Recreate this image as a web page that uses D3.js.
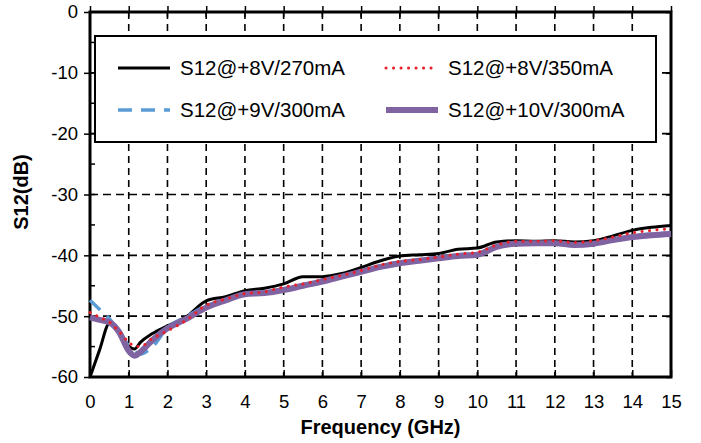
<!DOCTYPE html>
<html>
<head>
<meta charset="utf-8">
<script src="https://cdn.jsdelivr.net/npm/d3@7"></script>
<style>
    body { margin: 0; background: #fff; }
    text { font-family: "Liberation Sans", Arial, sans-serif; }
</style>
</head>
<body>
<script>
var w = 701, h = 443;
var margin = { left: 90, right: 30, top: 12, bottom: 66 };

// frequency points (GHz)
var freq = [0, 0.25, 0.5, 0.75, 1, 1.15, 1.3, 1.6, 2, 2.5, 3, 3.5, 4, 4.5, 5, 5.5, 6, 6.5,
    7, 7.5, 8, 8.5, 9, 9.5, 10, 10.5, 11, 11.5, 12, 12.5, 13, 13.5, 14, 14.5, 15];

var s12_8v270 = [-60, -55.5, -51.2, -52.3, -54.9, -55.4, -54.3, -52.9, -51.6, -50.0, -47.5, -46.8, -45.8, -45.4,
    -44.7, -43.5, -43.5, -43.0, -42.0, -40.9, -40.1, -39.9, -39.7, -39.0, -38.8, -37.8, -37.6, -37.7,
    -37.6, -37.8, -37.6, -36.8, -35.9, -35.4, -35.1];
var s12_8v350 = [-49.4, -50.2, -51.0, -52.5, -54.3, -54.9, -55.0, -53.7, -52.4, -50.6, -48.2, -47.2, -46.3, -46.0,
    -45.2, -44.7, -44.0, -43.3, -42.5, -41.6, -41.0, -40.7, -40.3, -39.8, -39.5, -38.3, -37.7, -37.7,
    -37.6, -37.9, -37.6, -37.0, -36.3, -35.9, -35.6];
var s12_9v300 = [-47.4, -48.9, -50.4, -52.5, -54.9, -55.8, -56.2, -55.1, -51.9, -50.0, -48.3, -47.3, -46.3, -46.0,
    -45.5, -44.8, -44.1, -43.4, -42.6, -41.7, -41.1, -40.8, -40.4, -39.9, -39.7, -38.4, -37.9, -37.9,
    -37.9, -38.2, -38.0, -37.4, -36.8, -36.5, -36.3];
var s12_10v300 = [-50.2, -50.6, -51.0, -52.6, -55.7, -56.5, -55.9, -54.0, -52.0, -50.4, -48.6, -47.4, -46.4, -46.2,
    -45.7, -45.0, -44.3, -43.5, -42.7, -41.9, -41.3, -40.9, -40.5, -40.1, -39.9, -38.6, -38.1, -38.0,
    -38.0, -38.3, -38.1, -37.5, -37.0, -36.7, -36.5];

var xTicks = d3.range(0, 16, 1);
var yTicks = [0, -10, -20, -30, -40, -50, -60];
var yMinor = [-5, -15, -25, -35, -45, -55];

var series = [
    { name: "S12@+8V/270mA", values: s12_8v270, color: "#000000", width: 3, dash: null, col: 0, row: 0 },
    { name: "S12@+9V/300mA", values: s12_9v300, color: "#5b9bd5", width: 3.5, dash: "14,9", col: 0, row: 1 },
    { name: "S12@+10V/300mA", values: s12_10v300, color: "#8064a2", width: 6, dash: null, col: 1, row: 1 },
    { name: "S12@+8V/350mA", values: s12_8v350, color: "#e8202a", width: 3, dash: "0.1,7.4", col: 1, row: 0 }
];

var xScale = d3.scaleLinear()
    .domain([0, 15])
    .range([margin.left, w - margin.right]);
var yScale = d3.scaleLinear()
    .domain([-60, 0])
    .range([h - margin.bottom, margin.top]);

var x0 = xScale(0), x1 = xScale(15), yTop = yScale(0), yBot = yScale(-60);

var svg = d3.select("body")
    .append("svg")
    .attr("width", w)
    .attr("height", h);

// dashed grid
svg.append("g")
    .selectAll("line")
    .data(xTicks.slice(1, -1))
    .enter()
    .append("line")
    .attr("x1", function (d) { return xScale(d); })
    .attr("x2", function (d) { return xScale(d); })
    .attr("y1", yTop)
    .attr("y2", yBot)
    .attr("stroke", "#000")
    .attr("stroke-width", 1.6)
    .attr("stroke-dasharray", "7,5");
svg.append("g")
    .selectAll("line")
    .data(yTicks.slice(1, -1))
    .enter()
    .append("line")
    .attr("x1", x0)
    .attr("x2", x1)
    .attr("y1", function (d) { return yScale(d); })
    .attr("y2", function (d) { return yScale(d); })
    .attr("stroke", "#000")
    .attr("stroke-width", 1.6)
    .attr("stroke-dasharray", "8,5");

// axes (plain hyphen for negatives, as in the source figure)
var plain = function (d) { return String(d); };
var xAxisTop = d3.axisTop(xScale).tickValues(xTicks).tickSize(6).tickFormat("");
var xAxisBot = d3.axisBottom(xScale).tickValues(xTicks).tickSize(-7).tickPadding(18).tickFormat(plain);
var yAxisLeft = d3.axisLeft(yScale).tickValues(yTicks).tickSize(6).tickPadding(6).tickFormat(plain);
var yAxisRight = d3.axisRight(yScale).tickValues(yTicks).tickSize(-5).tickFormat("");

svg.append("g").attr("class", "ax").attr("transform", "translate(0," + yTop + ")").call(xAxisTop);
svg.append("g").attr("class", "ax").attr("transform", "translate(0," + yBot + ")").call(xAxisBot);
svg.append("g").attr("class", "ax").attr("transform", "translate(" + x0 + ",0)").call(yAxisLeft);
svg.append("g").attr("class", "ax").attr("transform", "translate(" + x1 + ",0)").call(yAxisRight);

// top ticks cross the frame, left ticks too
svg.append("g")
    .selectAll("line")
    .data(xTicks)
    .enter()
    .append("line")
    .attr("x1", function (d) { return xScale(d); })
    .attr("x2", function (d) { return xScale(d); })
    .attr("y1", yTop)
    .attr("y2", yTop + 5)
    .attr("stroke", "#000")
    .attr("stroke-width", 1.5);
svg.append("g")
    .selectAll("line")
    .data(yTicks.concat(yMinor))
    .enter()
    .append("line")
    .attr("x1", x0)
    .attr("x2", x0 + 5)
    .attr("y1", function (d) { return yScale(d); })
    .attr("y2", function (d) { return yScale(d); })
    .attr("stroke", "#000")
    .attr("stroke-width", 1.5);

svg.selectAll(".ax .domain").remove();
svg.selectAll(".ax line").attr("stroke", "#000").attr("stroke-width", 1.5);
svg.selectAll(".ax text")
    .attr("font-family", "Liberation Sans, Arial, sans-serif")
    .attr("font-size", "18.5px")
    .attr("fill", "#000");

// frame
svg.append("rect")
    .attr("x", x0)
    .attr("y", yTop)
    .attr("width", x1 - x0)
    .attr("height", yBot - yTop)
    .attr("fill", "none")
    .attr("stroke", "#000")
    .attr("stroke-width", 3);

// curves
var line = d3.line()
    .x(function (d, i) { return xScale(freq[i]); })
    .y(function (d) { return yScale(d); })
    .curve(d3.curveMonotoneX);

svg.append("g")
    .selectAll("path")
    .data(series)
    .enter()
    .append("path")
    .attr("d", function (d) { return line(d.values); })
    .attr("fill", "none")
    .attr("stroke", function (d) { return d.color; })
    .attr("stroke-width", function (d) { return d.width; })
    .attr("stroke-linecap", function (d) { return d.dash && d.dash.indexOf("0.1") === 0 ? "round" : "butt"; })
    .attr("stroke-linejoin", "round")
    .attr("stroke-dasharray", function (d) { return d.dash; });

// legend
var lg = svg.append("g");
lg.append("rect")
    .attr("x", 95)
    .attr("y", 36)
    .attr("width", 561)
    .attr("height", 106)
    .attr("fill", "#fff")
    .attr("stroke", "#000")
    .attr("stroke-width", 2);

var item = lg.selectAll("g.item")
    .data(series)
    .enter()
    .append("g")
    .attr("class", "item")
    .attr("transform", function (d) {
        return "translate(" + (118 + d.col * 268) + "," + (68 + d.row * 42) + ")";
    });
item.append("line")
    .attr("x1", 0)
    .attr("x2", 52)
    .attr("stroke", function (d) { return d.color; })
    .attr("stroke-width", function (d) { return d.width; })
    .attr("stroke-linecap", function (d) { return d.dash && d.dash.indexOf("0.1") === 0 ? "round" : "butt"; })
    .attr("stroke-dasharray", function (d) { return d.dash; });
item.append("text")
    .attr("x", 62)
    .attr("dy", "0.35em")
    .attr("font-size", "20.5px")
    .attr("fill", "#000")
    .text(function (d) { return d.name; });

// axis titles
svg.append("text")
    .attr("x", (x0 + x1) / 2)
    .attr("y", 434)
    .attr("text-anchor", "middle")
    .attr("font-size", "20px")
    .attr("font-weight", "bold")
    .text("Frequency (GHz)");
svg.append("text")
    .attr("transform", "translate(28,192) rotate(-90)")
    .attr("text-anchor", "middle")
    .attr("font-size", "20px")
    .attr("font-weight", "bold")
    .text("S12(dB)");
</script>
</body>
</html>
